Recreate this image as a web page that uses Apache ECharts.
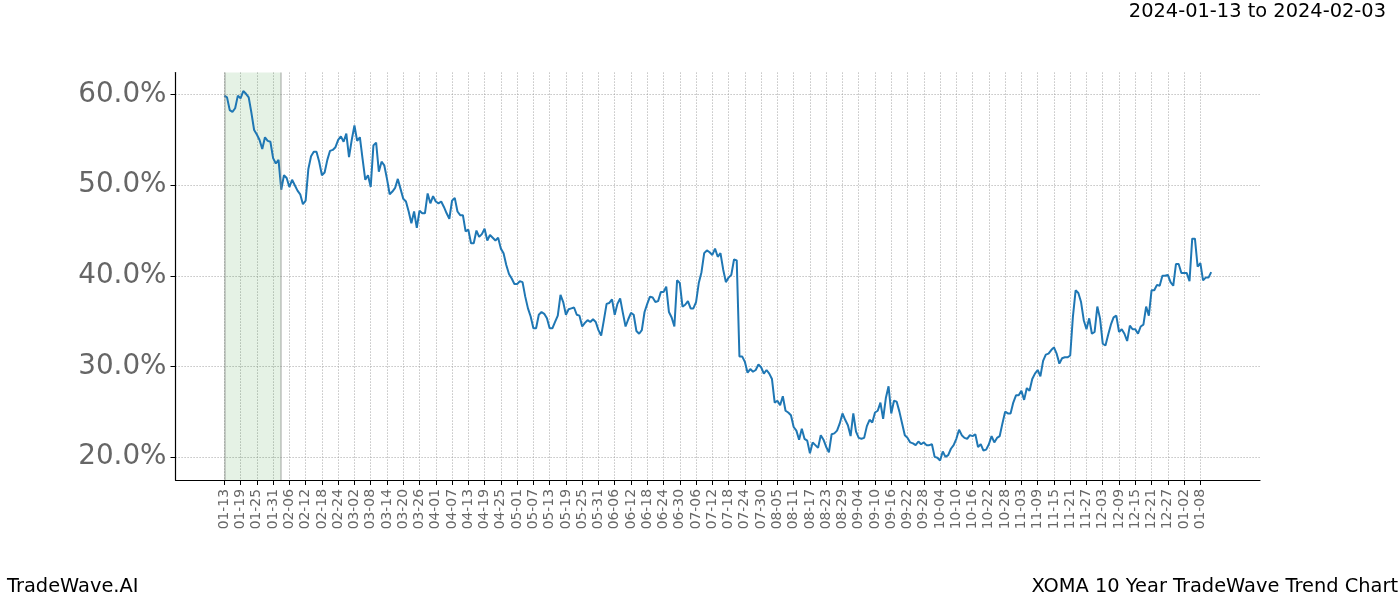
<!DOCTYPE html>
<html><head><meta charset="utf-8">
<script src="https://cdn.jsdelivr.net/npm/echarts@6/dist/echarts.min.js"></script>
<style>html,body{margin:0;padding:0;background:#fff}#c{width:1400px;height:600px}</style>
</head><body><div id="c"></div>
<script>
// ---- data ----
const startDateUTC = [2023, 0, 13];   // first data day (shown as 01-13)
const padDays = 18;                  // empty margin days on each side of the line
const labelStep = 6;                 // x tick every 6 days
const lastLabelDay = 360;
const values = [
59.9,59.7,58.3,58.1,58.5,59.9,59.6,60.4,60.1,59.7,
58.0,56.1,55.6,55.0,54.0,55.3,54.9,54.8,53.0,52.4,
52.8,49.5,51.1,50.8,49.8,50.6,50.0,49.4,49.0,47.9,
48.3,51.8,53.2,53.7,53.7,52.6,51.1,51.4,52.8,53.8,
53.9,54.2,55.0,55.4,54.8,55.7,53.1,55.0,56.6,54.9,
55.3,52.9,50.6,51.1,49.8,54.4,54.7,51.5,52.6,52.2,
50.7,49.0,49.3,49.7,50.7,49.6,48.5,48.2,47.1,45.8,
47.1,45.3,47.2,46.9,46.9,49.1,48.0,48.8,48.2,48.0,
48.2,47.6,46.9,46.3,48.3,48.6,47.1,46.7,46.7,44.9,
45.1,43.6,43.6,45.0,44.3,44.6,45.2,43.9,44.5,44.2,
43.9,44.2,43.0,42.5,41.2,40.2,39.7,39.1,39.1,39.4,
39.3,37.7,36.4,35.5,34.2,34.2,35.7,36.0,35.8,35.3,
34.2,34.2,34.9,35.6,37.9,37.1,35.7,36.3,36.4,36.5,
35.7,35.6,34.4,34.8,35.1,34.9,35.2,34.9,34.0,33.4,
35.1,36.9,37.0,37.4,35.7,36.9,37.5,35.9,34.4,35.2,
35.9,35.7,33.9,33.6,34.0,36.0,36.9,37.7,37.6,37.1,
37.2,38.2,38.2,38.8,36.0,35.4,34.4,39.5,39.2,36.6,
36.8,37.2,36.4,36.4,37.1,39.2,40.4,42.5,42.8,42.6,
42.3,43.0,42.1,42.5,40.7,39.3,39.8,40.1,41.8,41.7,
31.1,31.1,30.5,29.3,29.7,29.4,29.6,30.2,29.9,29.2,
29.6,29.2,28.6,26.0,26.2,25.7,26.7,25.1,24.9,24.6,
23.3,22.9,21.9,23.1,22.0,21.8,20.4,21.6,21.3,21.0,
22.4,21.9,21.1,20.5,22.5,22.6,22.9,23.7,24.8,24.1,
23.5,22.3,24.8,22.8,22.1,22.0,22.1,23.4,24.1,23.8,
24.9,25.1,26.0,24.2,26.5,27.8,24.8,26.2,26.1,25.0,
23.7,22.4,22.1,21.6,21.5,21.3,21.7,21.4,21.6,21.3,
21.3,21.4,20.0,19.9,19.6,20.6,20.0,20.2,20.9,21.3,
22.0,23.0,22.4,22.1,22.0,22.4,22.3,22.5,21.1,21.4,
20.7,20.8,21.4,22.3,21.6,22.1,22.3,23.7,25.0,24.8,
24.8,26.0,26.8,26.8,27.3,26.3,27.6,27.3,28.6,29.2,
29.6,28.9,30.6,31.3,31.4,31.8,32.1,31.4,30.3,30.9,
31.0,31.0,31.2,35.5,38.4,38.1,37.1,35.1,34.1,35.3,
33.6,33.8,36.6,35.3,32.5,32.3,33.5,34.6,35.4,35.6,
33.8,34.1,33.6,32.8,34.5,34.1,34.1,33.6,34.4,34.6,
36.6,35.6,38.4,38.4,39.0,38.9,40.0,40.0,40.1,39.3,
38.9,41.3,41.3,40.3,40.3,40.3,39.4,44.1,44.1,41.0,
41.4,39.5,39.8,39.8,40.4
];
const highlightDays = [0, 21];       // shaded window 01-13 .. 02-03
const yTicks = [20, 30, 40, 50, 60];
const yRange = [17.45, 62.45];
const titleText = '2024-01-13 to 2024-02-03';
const footerLeft = 'TradeWave.AI';
const footerRight = 'XOMA 10 Year TradeWave Trend Chart';

// ---- build categories (ISO dates incl. padding) ----
const baseMs = Date.UTC(startDateUTC[0], startDateUTC[1], startDateUTC[2]);
const categories = [];
const seriesData = [];
for (let i = -padDays; i < values.length + padDays; i++) {
  const d = new Date(baseMs + i * 86400000);
  categories.push(d.toISOString().slice(0, 10));
  seriesData.push(i >= 0 && i < values.length ? values[i] : null);
}
const showTick = (idx) => { const k = idx - padDays; return k >= 0 && k <= lastLabelDay && k % labelStep === 0; };

const chart = echarts.init(document.getElementById('c'), null, {renderer: 'canvas'});
const FONT = 'DejaVu Sans';
const gridLine = {color: '#a0a0a0', width: 0.8, type: [1.2, 1.8]};
chart.setOption({
  animation: false,
  backgroundColor: '#ffffff',
  grid: {left: 175.5, right: 140, top: 72.5, bottom: 120, containLabel: false},
  xAxis: {
    type: 'category',
    data: categories,
    boundaryGap: false,
    axisLine: {show: true, lineStyle: {color: '#000', width: 1.2}},
    axisTick: {show: true, interval: showTick, length: 5, lineStyle: {color: '#000', width: 1}},
    axisLabel: {show: true, interval: showTick, rotate: 90, margin: 9,
      fontFamily: FONT, fontSize: 13.9, color: '#666',
      formatter: v => v.slice(5)},
    splitLine: {show: true, interval: showTick, lineStyle: gridLine}
  },
  yAxis: {
    type: 'value',
    min: yRange[0], max: yRange[1],
    axisLine: {show: true, lineStyle: {color: '#000', width: 1.2}},
    axisTick: {show: true, length: 5, customValues: yTicks, lineStyle: {color: '#000', width: 1}},
    axisLabel: {show: true, customValues: yTicks, margin: 9, fontFamily: FONT, fontSize: 27.8, color: '#666',
      padding: [4, 0, 0, 0],
      formatter: v => Number(v).toFixed(1) + '%'},
    splitLine: {show: true, lineStyle: gridLine}
  },
  series: [{
    type: 'line',
    data: seriesData,
    showSymbol: false,
    connectNulls: false,
    lineStyle: {color: '#1f77b4', width: 2},
    itemStyle: {color: '#1f77b4'},
    z: 3,
    markArea: {
      silent: true,
      itemStyle: {color: 'rgba(0,128,0,0.1)'},
      data: [[{xAxis: highlightDays[0] + padDays}, {xAxis: highlightDays[1] + padDays}]]
    },
    markLine: {
      silent: true,
      symbol: ['none', 'none'],
      label: {show: false},
      lineStyle: {color: 'rgba(128,128,128,0.35)', width: 2, type: 'solid'},
      data: [{xAxis: highlightDays[0] + padDays}, {xAxis: highlightDays[1] + padDays}]
    }
  }],
  graphic: [
    {type: 'text', right: 14, top: 2, style: {text: titleText, fontFamily: FONT, fontSize: 19.4, fill: '#000'}},
    {type: 'text', left: 7, top: 577, style: {text: footerLeft, fontFamily: FONT, fontSize: 19.4, fill: '#000'}},
    {type: 'text', right: 2, top: 577, style: {text: footerRight, fontFamily: FONT, fontSize: 19.4, fill: '#000'}}
  ]
});
</script>
</body></html>
